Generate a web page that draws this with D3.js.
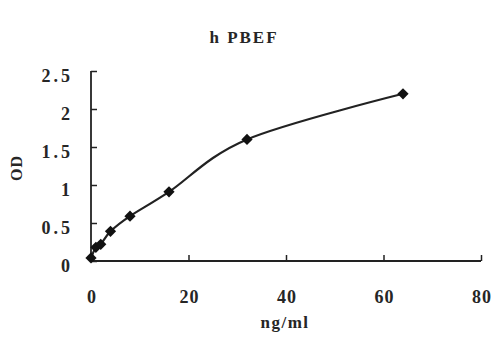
<!DOCTYPE html>
<html><head><meta charset="utf-8">
<script src="https://cdn.jsdelivr.net/npm/d3@7"></script>
<style>
html,body{margin:0;padding:0;background:#fff;}
svg{display:block;}
text{font-family:"Liberation Serif","DejaVu Serif",serif;fill:#262626;font-weight:bold;}
</style></head>
<body>
<svg id="chart" width="500" height="350"></svg>
<script>
const concentration = [0, 1, 2, 4, 8, 16, 32, 64];
const odValues = [0.04, 0.18, 0.22, 0.39, 0.59, 0.91, 1.6, 2.2];
const xTicks = [0, 20, 40, 60, 80];
const yTicks = [0, 0.5, 1, 1.5, 2, 2.5];
const titleText = "h PBEF";
const xTitle = "ng/ml";
const yTitle = "OD";

const svg = d3.select("#chart");
const x = d3.scaleLinear().domain([0, 80]).range([91, 481]);
const y = d3.scaleLinear().domain([0, 2.5]).range([261, 71]);
const ink = "#222";

// X axis
const xAxis = svg.append("g").attr("transform", `translate(0,${y(0)})`)
  .call(d3.axisTop(x).tickValues(xTicks).tickSize(6).tickFormat(""));
xAxis.select(".domain").attr("stroke", ink).attr("stroke-width", 1.8).attr("d", `M${x(0)},0H${x(80)}`);
xAxis.selectAll(".tick line").attr("stroke", ink).attr("stroke-width", 1.5);
svg.append("g").selectAll("text").data(xTicks).join("text")
  .attr("x", d => x(d) + 1).attr("y", 303).attr("text-anchor", "middle")
  .attr("font-size", 18).attr("letter-spacing", 1).text(d => d);

// Y axis
const yAxis = svg.append("g").attr("transform", `translate(${x(0)},0)`)
  .call(d3.axisRight(y).tickValues(yTicks).tickSize(6).tickFormat(""));
yAxis.select(".domain").attr("stroke", ink).attr("stroke-width", 1.8).attr("d", `M0,${y(0)}V${y(2.5)}`);
yAxis.selectAll(".tick line").attr("stroke", ink).attr("stroke-width", 1.5);
svg.append("g").selectAll("text").data(yTicks).join("text")
  .attr("x", 73).attr("y", d => y(d) + 11).attr("text-anchor", "end")
  .attr("font-size", 18).attr("letter-spacing", 3).text(d => d);

// Titles
svg.append("text").attr("x", 244).attr("y", 43).attr("text-anchor", "middle")
  .attr("font-size", 17).attr("letter-spacing", 2).text(titleText);
svg.append("text").attr("x", 285).attr("y", 328).attr("text-anchor", "middle")
  .attr("font-size", 17).attr("letter-spacing", 1.5).text(xTitle);
svg.append("text").attr("transform", "translate(22,168) rotate(-90)").attr("text-anchor", "middle")
  .attr("font-size", 16).attr("letter-spacing", 1).text(yTitle);

// Line
const pts = concentration.map((c, i) => [c, odValues[i]]);
svg.append("path").datum(pts)
  .attr("fill", "none").attr("stroke", ink).attr("stroke-width", 2.2)
  .attr("d", d3.line().x(d => x(d[0])).y(d => y(d[1])).curve(d3.curveCardinal.tension(0)));

// Markers
svg.append("g").selectAll("path").data(pts).join("path")
  .attr("transform", d => `translate(${x(d[0])},${y(d[1])})`)
  .attr("d", d3.symbol().type(d3.symbolDiamond2).size(80))
  .attr("fill", "#111");
</script>
</body></html>
